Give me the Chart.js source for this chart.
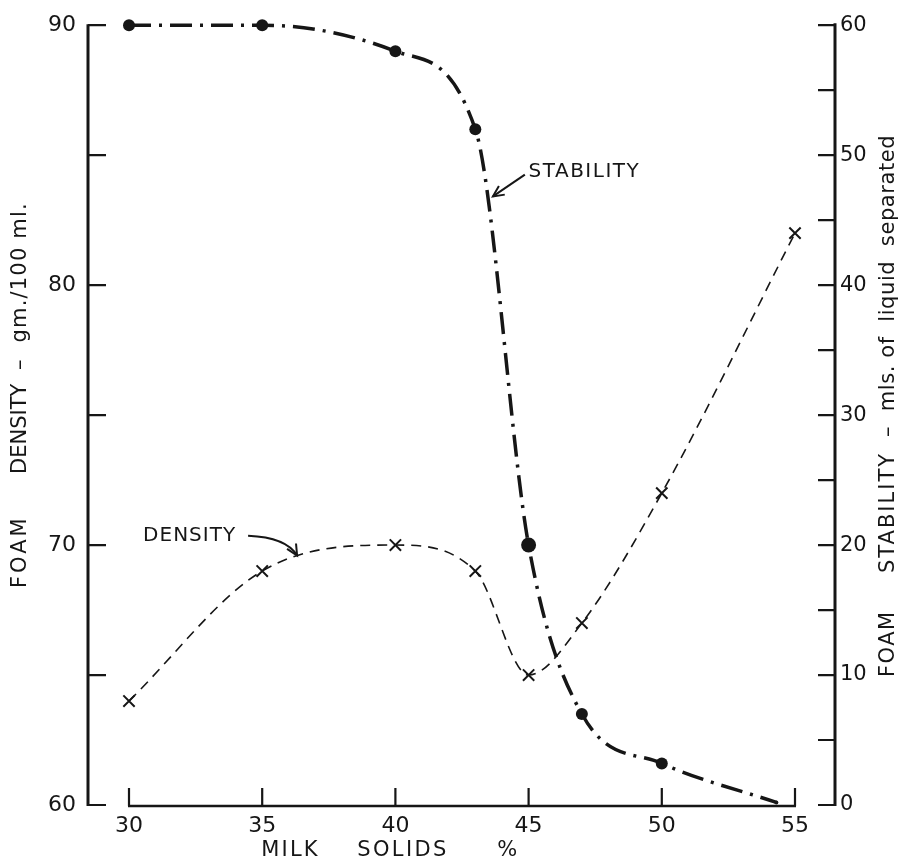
<!DOCTYPE html>
<html>
<head>
<meta charset="utf-8">
<title>Foam density and stability - milk solids</title>
<script src="https://cdn.jsdelivr.net/npm/chart.js@4.4.1/dist/chart.umd.min.js"></script>
<style>
  html, body { margin: 0; padding: 0; background: #fff; }
  #wrap { width: 905px; height: 867px; }
</style>
</head>
<body>
<div id="wrap"><canvas id="foam" width="905" height="867"></canvas></div>
<script>
// milk solids (%) of each mix
const solids = [30, 35, 40, 43, 45, 47, 50, 55]
// foam density, gm./100 ml.
const density = [64, 69, 70, 69, 65, 67, 72, 82]
// foam stability, mls. of liquid separated (last reading near 54 %)
const stabilitySolids = [30, 35, 40, 43, 45, 47, 50, 54.3]
const stability = [60, 60, 58, 52, 20, 7, 3.2, 0.2]

const xTicks = [30, 35, 40, 45, 50, 55]
const densityRange = [60, 90]
const stabilityRange = [0, 60]

const ink = '#161616'
const FONT = 'DejaVu Sans'

// text with letter spacing, optionally turned to read up the page
function spacedText(ctx, text, x, y, size, spacing, rotate) {
  ctx.save()
  ctx.translate(x, y)
  if (rotate) ctx.rotate(-Math.PI / 2)
  ctx.font = `${size}px "${FONT}"`
  ctx.letterSpacing = `${spacing}px`
  ctx.fillStyle = ink
  ctx.textAlign = 'left'
  ctx.textBaseline = 'middle'
  ctx.fillText(text, 0, 0)
  ctx.restore()
}

function arrowHead(ctx, fromX, fromY, tipX, tipY, len) {
  const a = Math.atan2(tipY - fromY, tipX - fromX)
  ctx.beginPath()
  ctx.moveTo(tipX - len * Math.cos(a - 0.45), tipY - len * Math.sin(a - 0.45))
  ctx.lineTo(tipX, tipY)
  ctx.lineTo(tipX - len * Math.cos(a + 0.45), tipY - len * Math.sin(a + 0.45))
  ctx.stroke()
}

// axis lines and inward tick marks, drawn by hand so the x axis only runs 30..55
const axesPlugin = {
  id: 'axesPlugin',
  afterDraw(chart) {
    const { ctx, chartArea } = chart
    const { x, yDensity, yStability } = chart.scales
    ctx.save()
    ctx.strokeStyle = ink
    ctx.lineCap = 'butt'

    ctx.lineWidth = 3
    ctx.beginPath()
    ctx.moveTo(chartArea.left, chartArea.top - 1)
    ctx.lineTo(chartArea.left, chartArea.bottom + 1)
    ctx.moveTo(chartArea.right, chartArea.top - 2)
    ctx.lineTo(chartArea.right, chartArea.bottom + 1)
    ctx.stroke()

    ctx.lineWidth = 2.2
    ctx.beginPath()
    yDensity.ticks.forEach((t) => {
      const py = yDensity.getPixelForValue(t.value)
      ctx.moveTo(chartArea.left, py)
      ctx.lineTo(chartArea.left + 18, py)
    })
    yStability.ticks.forEach((t) => {
      const py = yStability.getPixelForValue(t.value)
      ctx.moveTo(chartArea.right - 17, py)
      ctx.lineTo(chartArea.right, py)
    })
    ctx.stroke()

    const base = chartArea.bottom + 1
    ctx.lineWidth = 2.6
    ctx.beginPath()
    ctx.moveTo(x.getPixelForValue(xTicks[0]) - 1, base)
    ctx.lineTo(x.getPixelForValue(xTicks[xTicks.length - 1]) + 1, base)
    ctx.stroke()
    ctx.lineWidth = 2.2
    ctx.beginPath()
    xTicks.forEach((v) => {
      const px = x.getPixelForValue(v)
      ctx.moveTo(px, base)
      ctx.lineTo(px, base - 18)
    })
    ctx.stroke()
    ctx.restore()
  },
}

// axis titles (word by word, the lettering is spaced out) and the curve labels
const notesPlugin = {
  id: 'notesPlugin',
  afterDraw(chart) {
    const { ctx } = chart
    const { x, yDensity, yStability } = chart.scales
    const bx = x.getPixelForValue(35)
    spacedText(ctx, 'MILK', bx - 1, 851, 21, 2.2)
    spacedText(ctx, 'SOLIDS', bx + 95, 851, 21, 2.4)
    spacedText(ctx, '%', bx + 235, 851, 21, 0)

    // left title, reading upwards
    spacedText(ctx, 'FOAM', 21, 588, 21, 3, true)
    spacedText(ctx, 'DENSITY', 21, 474, 21, 0, true)
    spacedText(ctx, '–  gm./100 ml.', 21, 370, 21, 1.2, true)

    // right title, reading upwards
    spacedText(ctx, 'FOAM', 889, 677, 21, 1.5, true)
    spacedText(ctx, 'STABILITY', 889, 573, 21, 2, true)
    spacedText(ctx, '–  mls. of  liquid  separated', 889, 437, 21, 0.6, true)

    ctx.save()
    ctx.strokeStyle = ink
    ctx.lineWidth = 2

    // STABILITY label
    spacedText(ctx, 'STABILITY', x.getPixelForValue(45), yStability.getPixelForValue(48.7), 20, 1.5)
    const s0 = [x.getPixelForValue(44.86), yStability.getPixelForValue(48.5)]
    const s1 = [x.getPixelForValue(43.66), yStability.getPixelForValue(46.83)]
    ctx.beginPath()
    ctx.moveTo(s0[0], s0[1])
    ctx.lineTo(s1[0], s1[1])
    ctx.stroke()
    arrowHead(ctx, s0[0], s0[1], s1[0], s1[1], 12)

    // DENSITY label
    spacedText(ctx, 'DENSITY', x.getPixelForValue(30.53), yDensity.getPixelForValue(70.36), 20, 1)
    const d0 = [x.getPixelForValue(34.47), yDensity.getPixelForValue(70.36)]
    const dc = [x.getPixelForValue(35.9), yDensity.getPixelForValue(70.3)]
    const d1 = [x.getPixelForValue(36.31), yDensity.getPixelForValue(69.6)]
    ctx.beginPath()
    ctx.moveTo(d0[0], d0[1])
    ctx.quadraticCurveTo(dc[0], dc[1], d1[0], d1[1])
    ctx.stroke()
    arrowHead(ctx, dc[0], dc[1], d1[0], d1[1], 12)
    ctx.restore()
  },
}

const xPerUnit = 666 / (xTicks[5] - xTicks[0])
// no chart.js grid or tick marks at all: the plugin above draws them
const noGrid = { display: false, drawTicks: false, tickLength: 0 }

new Chart(document.getElementById('foam'), {
  type: 'line',
  data: {
    datasets: [
      {
        label: 'Density',
        data: solids.map((s, i) => ({ x: s, y: density[i] })),
        yAxisID: 'yDensity',
        borderColor: ink,
        borderWidth: 1.6,
        borderDash: [10, 7],
        cubicInterpolationMode: 'monotone',
        pointStyle: 'crossRot',
        pointRadius: 8,
        pointBorderWidth: 2,
        pointBorderColor: ink,
        fill: false,
        clip: false,
      },
      {
        label: 'Stability',
        data: stabilitySolids.map((s, i) => ({ x: s, y: stability[i] })),
        yAxisID: 'yStability',
        borderColor: ink,
        borderWidth: 3.5,
        borderDash: [22, 8, 3, 8],
        cubicInterpolationMode: 'monotone',
        pointStyle: 'circle',
        pointRadius: [6, 6, 6, 6, 7.5, 6, 6, 2],
        pointBorderWidth: 0,
        pointBackgroundColor: ink,
        fill: false,
        clip: false,
      },
    ],
  },
  options: {
    responsive: false,
    animation: false,
    layout: { padding: { top: 17, left: 0, right: 0, bottom: 0 } },
    plugins: { legend: { display: false }, tooltip: { enabled: false } },
    scales: {
      x: {
        type: 'linear',
        position: 'bottom',
        min: xTicks[0] - 41 / xPerUnit,
        max: xTicks[5] + 40 / xPerUnit,
        afterBuildTicks(scale) { scale.ticks = xTicks.map((v) => ({ value: v })) },
        afterFit(scale) { scale.height = 62 },
        grid: noGrid,
        border: { display: false },
        ticks: { color: ink, font: { family: FONT, size: 22 }, padding: 8, maxRotation: 0 },
      },
      yDensity: {
        position: 'left',
        min: densityRange[0],
        max: densityRange[1],
        afterFit(scale) { scale.width = 88 },
        grid: noGrid,
        border: { display: false },
        ticks: {
          stepSize: 5,
          color: ink,
          font: { family: FONT, size: 22 },
          padding: 12,
          callback: (v) => (v % 10 === 0 ? v : ''),
        },
      },
      yStability: {
        position: 'right',
        min: stabilityRange[0],
        max: stabilityRange[1],
        afterFit(scale) { scale.width = 70 },
        grid: noGrid,
        border: { display: false },
        ticks: {
          stepSize: 5,
          color: ink,
          font: { family: FONT, size: 21 },
          padding: 5,
          callback: (v) => (v % 10 === 0 ? v : ''),
        },
      },
    },
  },
  plugins: [axesPlugin, notesPlugin],
})
</script>
</body>
</html>
